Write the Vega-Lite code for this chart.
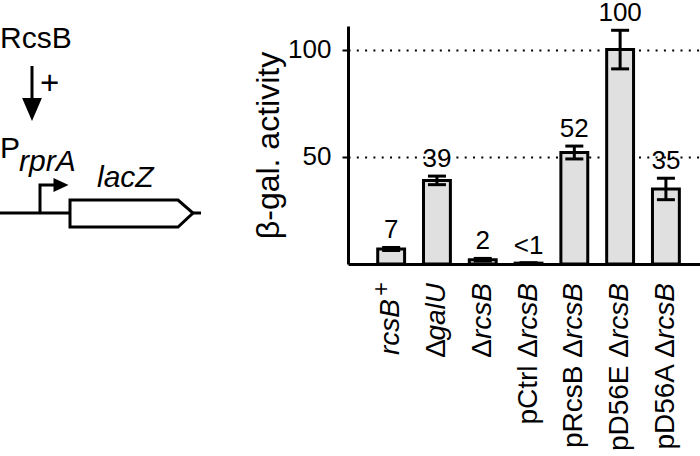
{
  "$schema": "https://vega.github.io/schema/vega-lite/v6.json",
  "padding": {"left": 0, "top": 0, "right": 0, "bottom": 0},
  "config": {
    "font": "Liberation Sans",
    "view": {"stroke": null},
    "text": {"color": "black"}
  },
  "datasets": {
    "strains": [
      {"strain": "rcsB+", "prefix": "", "gene": "rcsB", "sup": "+", "activity": 7, "lo": 6.3, "hi": 7.7, "label": "7"},
      {"strain": "ΔgalU", "prefix": "Δ", "gene": "galU", "sup": "", "activity": 39, "lo": 37, "hi": 41, "label": "39"},
      {"strain": "ΔrcsB", "prefix": "Δ", "gene": "rcsB", "sup": "", "activity": 2, "lo": 1.4, "hi": 2.6, "label": "2"},
      {"strain": "pCtrl ΔrcsB", "prefix": "pCtrl Δ", "gene": "rcsB", "sup": "", "activity": 0.4, "lo": 0.2, "hi": 0.6, "label": "<1"},
      {"strain": "pRcsB ΔrcsB", "prefix": "pRcsB Δ", "gene": "rcsB", "sup": "", "activity": 52, "lo": 49, "hi": 55, "label": "52"},
      {"strain": "pD56E ΔrcsB", "prefix": "pD56E Δ", "gene": "rcsB", "sup": "", "activity": 100, "lo": 91, "hi": 109, "label": "100"},
      {"strain": "pD56A ΔrcsB", "prefix": "pD56A Δ", "gene": "rcsB", "sup": "", "activity": 35, "lo": 30, "hi": 40, "label": "35"}
    ],
    "diagramText": [
      {"text": "RcsB", "role": "protein", "x": 0, "y": 22},
      {"text": "+", "role": "sign", "x": 40, "y": 68},
      {"text": "P", "role": "promoter", "x": 0, "y": 132},
      {"text": "rprA", "role": "gene", "x": 19, "y": 145},
      {"text": "lacZ", "role": "gene", "x": 97, "y": 161}
    ],
    "diagramLines": [
      {"path": "activation", "seq": 1, "x": 32, "y": 40},
      {"path": "activation", "seq": 2, "x": 32, "y": 76},
      {"path": "dnaLeft", "seq": 1, "x": 0, "y": 187},
      {"path": "dnaLeft", "seq": 2, "x": 70, "y": 187},
      {"path": "dnaRight", "seq": 1, "x": 193, "y": 187},
      {"path": "dnaRight", "seq": 2, "x": 201, "y": 187},
      {"path": "tss", "seq": 1, "x": 40, "y": 187},
      {"path": "tss", "seq": 2, "x": 40, "y": 159},
      {"path": "tss", "seq": 3, "x": 56, "y": 159},
      {"path": "lacZ", "seq": 1, "x": 120, "y": 174},
      {"path": "lacZ", "seq": 2, "x": 178, "y": 174},
      {"path": "lacZ", "seq": 3, "x": 193, "y": 187},
      {"path": "lacZ", "seq": 4, "x": 178, "y": 201},
      {"path": "lacZ", "seq": 5, "x": 70, "y": 201},
      {"path": "lacZ", "seq": 6, "x": 70, "y": 174},
      {"path": "lacZ", "seq": 7, "x": 120, "y": 174}
    ],
    "diagramHeads": [
      {"dir": "down", "x": 32, "y": 83.5},
      {"dir": "right", "x": 61, "y": 159}
    ]
  },
  "hconcat": [
    {
      "width": 230,
      "height": 238,
      "encoding": {
        "x": {"field": "x", "type": "quantitative", "scale": {"domain": [0, 230], "nice": false, "zero": false}, "axis": null},
        "y": {"field": "y", "type": "quantitative", "scale": {"domain": [0, 238], "nice": false, "zero": false, "reverse": true}, "axis": null}
      },
      "layer": [
        {
          "data": {"name": "diagramLines"},
          "mark": {"type": "line", "color": "black", "strokeWidth": 3, "strokeJoin": "miter", "clip": true},
          "encoding": {
            "detail": {"field": "path", "type": "nominal"},
            "order": {"field": "seq", "type": "quantitative"}
          }
        },
        {
          "data": {"name": "diagramHeads"},
          "transform": [{"filter": "datum.dir == 'down'"}],
          "mark": {"type": "point", "filled": true, "color": "black", "opacity": 1, "size": 529, "shape": "M-0.86,-1L0.86,-1L0,1Z"},
          "encoding": {}
        },
        {
          "data": {"name": "diagramHeads"},
          "transform": [{"filter": "datum.dir == 'right'"}],
          "mark": {"type": "point", "filled": true, "color": "black", "opacity": 1, "size": 225, "shape": "M-1,-0.93L1,0L-1,0.93Z"},
          "encoding": {}
        },
        {
          "data": {"name": "diagramText"},
          "transform": [{"filter": "datum.role != 'gene' && datum.role != 'sign'"}],
          "mark": {"type": "text", "align": "left", "baseline": "alphabetic", "fontSize": 30},
          "encoding": {"text": {"field": "text"}}
        },
        {
          "data": {"name": "diagramText"},
          "transform": [{"filter": "datum.role == 'sign'"}],
          "mark": {"type": "text", "align": "left", "baseline": "alphabetic", "fontSize": 33},
          "encoding": {"text": {"field": "text"}}
        },
        {
          "data": {"name": "diagramText"},
          "transform": [{"filter": "datum.role == 'gene'"}],
          "mark": {"type": "text", "align": "left", "baseline": "alphabetic", "fontSize": 30, "fontStyle": "italic"},
          "encoding": {"text": {"field": "text"}}
        }
      ]
    },
    {
      "width": 352,
      "height": 238,
      "data": {"name": "strains"},
      "encoding": {
        "x": {
          "field": "strain", "type": "nominal", "sort": null,
          "scale": {"paddingInner": 0.413, "paddingOuter": 0.55, "align": 0.59},
          "axis": {"labels": false, "ticks": false, "title": null, "domainWidth": 3, "domainColor": "black"}
        }
      },
      "layer": [
        {
          "mark": {"type": "bar", "fill": "#e0e0e0", "stroke": "black", "strokeWidth": 3},
          "encoding": {
            "y": {
              "field": "activity", "type": "quantitative",
              "scale": {"domain": [0, 111], "nice": false},
              "axis": {
                "values": [50, 100], "title": "β-gal. activity",
                "grid": true, "gridColor": "black", "gridDash": [2, 6.3], "gridWidth": 2, "gridOpacity": 1,
                "tickSize": 6, "tickWidth": 2, "tickColor": "black",
                "domainWidth": 3, "domainColor": "black",
                "labelFontSize": 26, "labelColor": "black", "labelPadding": 11,
                "titleFontSize": 32, "titleFontWeight": "normal", "titleColor": "black", "titlePadding": 2
              }
            }
          }
        },
        {
          "mark": {"type": "rule", "color": "black", "strokeWidth": 3},
          "encoding": {
            "y": {"field": "lo", "type": "quantitative"},
            "y2": {"field": "hi"}
          }
        },
        {
          "mark": {"type": "tick", "color": "black", "size": 18, "thickness": 3, "opacity": 1},
          "encoding": {"y": {"field": "lo", "type": "quantitative"}}
        },
        {
          "mark": {"type": "tick", "color": "black", "size": 18, "thickness": 3, "opacity": 1},
          "encoding": {"y": {"field": "hi", "type": "quantitative"}}
        },
        {
          "mark": {"type": "text", "fontSize": 26, "baseline": "alphabetic", "align": "center", "dy": -9},
          "encoding": {
            "y": {"field": "hi", "type": "quantitative"},
            "text": {"field": "label"}
          }
        },
        {
          "transform": [{"filter": "datum.sup == ''"}],
          "mark": {"type": "text", "fontSize": 28, "fontStyle": "italic", "angle": 270, "align": "right", "baseline": "middle", "dx": -19},
          "encoding": {"y": {"datum": 0}, "text": {"field": "gene"}}
        },
        {
          "transform": [{"filter": "datum.sup != ''"}],
          "mark": {"type": "text", "fontSize": 28, "fontStyle": "italic", "angle": 270, "align": "right", "baseline": "middle", "dx": -35},
          "encoding": {"y": {"datum": 0}, "text": {"field": "gene"}}
        },
        {
          "transform": [{"filter": "datum.sup != ''"}],
          "mark": {"type": "text", "fontSize": 24, "angle": 270, "align": "right", "baseline": "middle", "dx": -18, "dy": -9},
          "encoding": {"y": {"datum": 0}, "text": {"field": "sup"}}
        },
        {
          "transform": [{"filter": "datum.prefix != ''"}],
          "mark": {"type": "text", "fontSize": 28, "angle": 270, "align": "right", "baseline": "middle", "dx": -75},
          "encoding": {"y": {"datum": 0}, "text": {"field": "prefix"}}
        }
      ]
    }
  ],
  "spacing": 118,
  "bounds": "flush"
}
